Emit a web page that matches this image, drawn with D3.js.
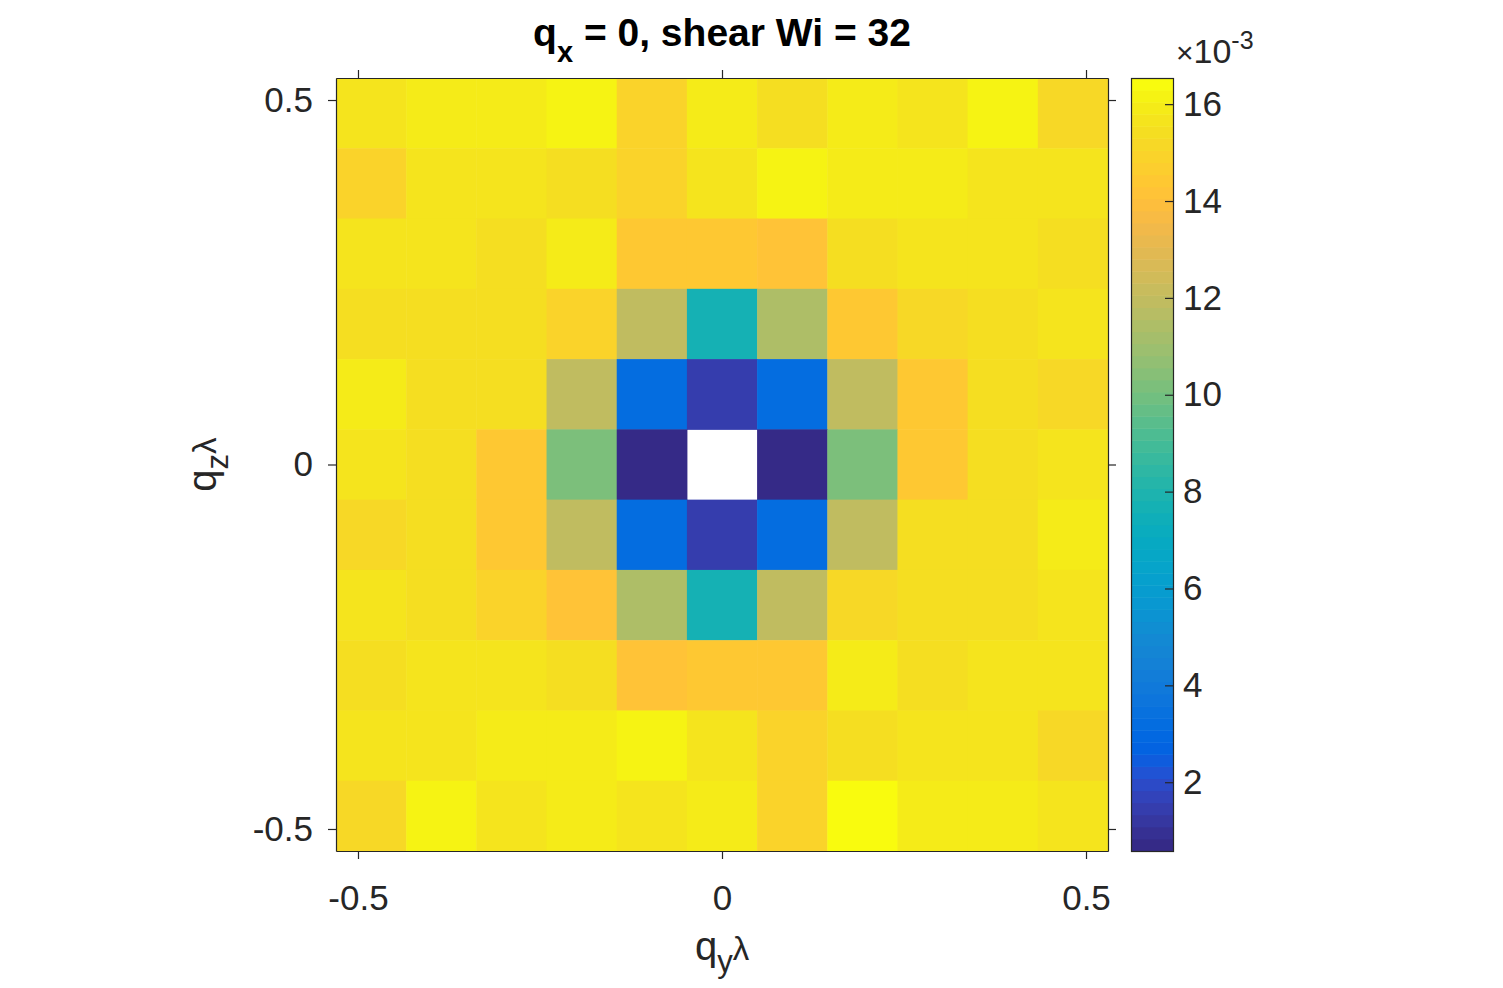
<!DOCTYPE html>
<html>
<head>
<meta charset="utf-8">
<script src="https://cdn.jsdelivr.net/npm/d3@7"></script>
<style>
  html, body { margin: 0; padding: 0; background: #fff; }
  svg { display: block; font-family: "Liberation Sans", Arial, Helvetica, sans-serif; }
</style>
</head>
<body>
<div id="chart"></div>
<script>
// grid spacing (q * lambda) and integer wave-vector indices along each axis
const qStep = 0.0964;
const qIndex = [-5, -4, -3, -2, -1, 0, 1, 2, 3, 4, 5];

// structure factor, units of 1e-3; one array per qz row, top (qz = +5) to bottom (qz = -5),
// columns run qy = -5 ... +5. Centre (q = 0) has no value.
const rowQz5  = [15.65, 15.9, 15.9, 16.15, 14.9, 15.9, 15.4, 15.9, 15.65, 16.15, 15.15];
const rowQz4  = [14.9, 15.65, 15.65, 15.4, 14.9, 15.65, 16.15, 15.9, 15.9, 15.65, 15.65];
const rowQz3  = [15.65, 15.65, 15.4, 15.9, 14.4, 14.4, 14.15, 15.4, 15.65, 15.65, 15.4];
const rowQz2  = [15.4, 15.4, 15.4, 14.9, 11.9, 7.7, 11.4, 14.4, 15.15, 15.4, 15.65];
const rowQz1  = [15.9, 15.4, 15.4, 11.9, 3.2, 1.45, 3.2, 11.9, 14.4, 15.4, 15.15];
const rowQz0  = [15.65, 15.4, 14.4, 10.2, 0.58, null, 0.65, 10.2, 14.4, 15.4, 15.65];
const rowQzm1 = [15.15, 15.4, 14.4, 11.9, 3.2, 1.45, 3.2, 11.9, 15.4, 15.4, 15.9];
const rowQzm2 = [15.65, 15.4, 14.9, 14.15, 11.4, 7.7, 11.9, 15.15, 15.4, 15.4, 15.65];
const rowQzm3 = [15.4, 15.65, 15.65, 15.4, 14.15, 14.4, 14.4, 15.9, 15.4, 15.65, 15.65];
const rowQzm4 = [15.65, 15.65, 15.9, 15.9, 16.15, 15.65, 14.9, 15.4, 15.65, 15.65, 15.15];
const rowQzm5 = [15.15, 16.15, 15.65, 15.9, 15.65, 15.9, 14.9, 16.54, 15.9, 15.9, 15.65];
const rows = [rowQz5, rowQz4, rowQz3, rowQz2, rowQz1, rowQz0, rowQzm1, rowQzm2, rowQzm3, rowQzm4, rowQzm5];

const axisTicks = [-0.5, 0, 0.5];
const colorbarTicks = [2, 4, 6, 8, 10, 12, 14, 16];

// MATLAB parula (R2014b), 64 entries
const parula = [
  [0.2081,0.1663,0.5292],[0.2116,0.1898,0.5777],[0.2123,0.2138,0.6270],[0.2081,0.2386,0.6771],
  [0.1959,0.2645,0.7279],[0.1707,0.2919,0.7792],[0.1253,0.3242,0.8303],[0.0591,0.3598,0.8683],
  [0.0117,0.3875,0.8820],[0.0060,0.4086,0.8828],[0.0165,0.4266,0.8786],[0.0329,0.4430,0.8720],
  [0.0498,0.4586,0.8641],[0.0629,0.4737,0.8554],[0.0723,0.4887,0.8467],[0.0779,0.5040,0.8384],
  [0.0793,0.5200,0.8312],[0.0749,0.5375,0.8263],[0.0641,0.5570,0.8240],[0.0488,0.5772,0.8228],
  [0.0343,0.5966,0.8199],[0.0265,0.6137,0.8135],[0.0239,0.6287,0.8038],[0.0231,0.6418,0.7913],
  [0.0228,0.6535,0.7768],[0.0267,0.6642,0.7607],[0.0384,0.6743,0.7436],[0.0590,0.6838,0.7254],
  [0.0843,0.6928,0.7062],[0.1133,0.7015,0.6859],[0.1453,0.7098,0.6646],[0.1801,0.7177,0.6424],
  [0.2178,0.7250,0.6193],[0.2586,0.7317,0.5954],[0.3022,0.7376,0.5712],[0.3482,0.7424,0.5473],
  [0.3953,0.7459,0.5244],[0.4420,0.7481,0.5033],[0.4871,0.7491,0.4840],[0.5300,0.7491,0.4661],
  [0.5709,0.7485,0.4494],[0.6099,0.7473,0.4337],[0.6473,0.7456,0.4188],[0.6834,0.7435,0.4044],
  [0.7184,0.7411,0.3905],[0.7525,0.7384,0.3768],[0.7858,0.7356,0.3633],[0.8185,0.7327,0.3498],
  [0.8507,0.7299,0.3360],[0.8824,0.7274,0.3217],[0.9139,0.7258,0.3063],[0.9450,0.7261,0.2886],
  [0.9739,0.7314,0.2666],[0.9938,0.7455,0.2403],[0.9990,0.7653,0.2164],[0.9955,0.7861,0.1967],
  [0.9880,0.8066,0.1794],[0.9789,0.8271,0.1633],[0.9697,0.8481,0.1475],[0.9626,0.8705,0.1309],
  [0.9589,0.8949,0.1132],[0.9598,0.9218,0.0948],[0.9661,0.9514,0.0755],[0.9763,0.9831,0.0538]
].map(([r, g, b]) => d3.rgb(r * 255, g * 255, b * 255).formatHex());

const W = 1503, H = 988;
const plot = { left: 336, right: 1108, top: 78, bottom: 851 };
const cbar = { left: 1131, right: 1173 };
const ink = '#262626';

const svg = d3.select('#chart').append('svg')
  .attr('width', W)
  .attr('height', H);

const qMax = 5.5 * qStep;
const x = d3.scaleLinear().domain([-qMax, qMax]).range([plot.left, plot.right]);
const y = d3.scaleLinear().domain([-qMax, qMax]).range([plot.bottom, plot.top]);

// cells flattened from the row arrays
const cells = [];
rows.forEach((row, i) => row.forEach((v, j) => {
  cells.push({ qy: qIndex[j] * qStep, qz: qIndex[10 - i] * qStep, v });
}));

const values = cells.filter(d => d.v != null).map(d => d.v);
const [cMin, cMax] = d3.extent(values);
const color = d3.scaleQuantize().domain([cMin, cMax]).range(parula);

// heatmap cells (missing centre left blank)
svg.append('g')
  .attr('class', 'cells')
  .selectAll('rect')
  .data(cells.filter(d => d.v != null))
  .join('rect')
  .attr('x', d => x(d.qy - qStep / 2))
  .attr('y', d => y(d.qz + qStep / 2))
  .attr('width', d => x(d.qy + qStep / 2) - x(d.qy - qStep / 2) + 0.5)
  .attr('height', d => y(d.qz - qStep / 2) - y(d.qz + qStep / 2) + 0.5)
  .attr('fill', d => color(d.v));

const fmt = d => (d === 0 ? '0' : String(d));

function styleAxis(g) {
  g.selectAll('path.domain').attr('stroke', ink).attr('stroke-width', 1.2);
  g.selectAll('.tick line').attr('stroke', ink).attr('stroke-width', 1.2);
  g.selectAll('.tick text').attr('fill', ink).style('font-size', '35px')
    .style('font-family', '"Liberation Sans", Arial, Helvetica, sans-serif');
}

// box with outward ticks on all four sides (labels only bottom / left)
svg.append('g')
  .attr('transform', `translate(0,${plot.bottom})`)
  .call(d3.axisBottom(x).tickValues(axisTicks).tickFormat(fmt).tickSize(8).tickSizeOuter(0).tickPadding(26))
  .call(styleAxis);

svg.append('g')
  .attr('transform', `translate(0,${plot.top})`)
  .call(d3.axisTop(x).tickValues(axisTicks).tickFormat('').tickSize(8).tickSizeOuter(0))
  .call(styleAxis);

svg.append('g')
  .attr('transform', `translate(${plot.left},0)`)
  .call(d3.axisLeft(y).tickValues(axisTicks).tickFormat(fmt).tickSize(8).tickSizeOuter(0).tickPadding(15))
  .call(styleAxis);

svg.append('g')
  .attr('transform', `translate(${plot.right},0)`)
  .call(d3.axisRight(y).tickValues(axisTicks).tickFormat('').tickSize(8).tickSizeOuter(0))
  .call(styleAxis);

// colorbar: 64 discrete bands
const cy = d3.scaleLinear().domain([cMin, cMax]).range([plot.bottom, plot.top]);
const bandStep = (cMax - cMin) / parula.length;

svg.append('g')
  .attr('class', 'colorbar')
  .selectAll('rect')
  .data(parula)
  .join('rect')
  .attr('x', cbar.left)
  .attr('width', cbar.right - cbar.left)
  .attr('y', (c, k) => cy(cMin + (k + 1) * bandStep))
  .attr('height', (c, k) => cy(cMin + k * bandStep) - cy(cMin + (k + 1) * bandStep) + 0.5)
  .attr('fill', c => c);

svg.append('rect')
  .attr('x', cbar.left + 0.5)
  .attr('y', plot.top + 0.5)
  .attr('width', cbar.right - cbar.left)
  .attr('height', plot.bottom - plot.top)
  .attr('fill', 'none')
  .attr('stroke', ink)
  .attr('stroke-width', 1.2);

svg.append('g')
  .attr('transform', `translate(${cbar.right},0)`)
  .call(d3.axisRight(cy).tickValues(colorbarTicks).tickFormat(d => d).tickSize(-8).tickSizeOuter(0).tickPadding(10))
  .call(styleAxis)
  .call(g => g.select('path.domain').remove());

// exponent label above the colorbar
const expo = svg.append('text')
  .attr('x', 1176)
  .attr('y', 63)
  .attr('fill', ink)
  .style('font-size', '34px');
expo.append('tspan').style('font-size', '30px').text('×');
expo.append('tspan').text('10');
expo.append('tspan').attr('dy', -14).style('font-size', '25px').text('-3');

// title
const title = svg.append('text')
  .attr('x', (plot.left + plot.right) / 2)
  .attr('y', 46)
  .attr('text-anchor', 'middle')
  .attr('fill', '#000')
  .style('font-size', '39px')
  .style('font-weight', 'bold');
title.append('tspan').text('q');
title.append('tspan').attr('dy', 16).style('font-size', '29px').text('x');
title.append('tspan').attr('dy', -16).text(' = 0, shear Wi = 32');

// x label
const xl = svg.append('text')
  .attr('x', (plot.left + plot.right) / 2)
  .attr('y', 960)
  .attr('text-anchor', 'middle')
  .attr('fill', ink)
  .style('font-size', '40px');
xl.append('tspan').text('q');
xl.append('tspan').attr('dy', 12).style('font-size', '31px').text('y');
xl.append('tspan').attr('dy', -12).style('font-size', '33px').text('λ');

// y label
const yl = svg.append('text')
  .attr('transform', `translate(216,${(plot.top + plot.bottom) / 2}) rotate(-90)`)
  .attr('text-anchor', 'middle')
  .attr('fill', ink)
  .style('font-size', '40px');
yl.append('tspan').text('q');
yl.append('tspan').attr('dy', 12).style('font-size', '31px').text('z');
yl.append('tspan').attr('dy', -12).style('font-size', '33px').text('λ');
</script>
</body>
</html>
